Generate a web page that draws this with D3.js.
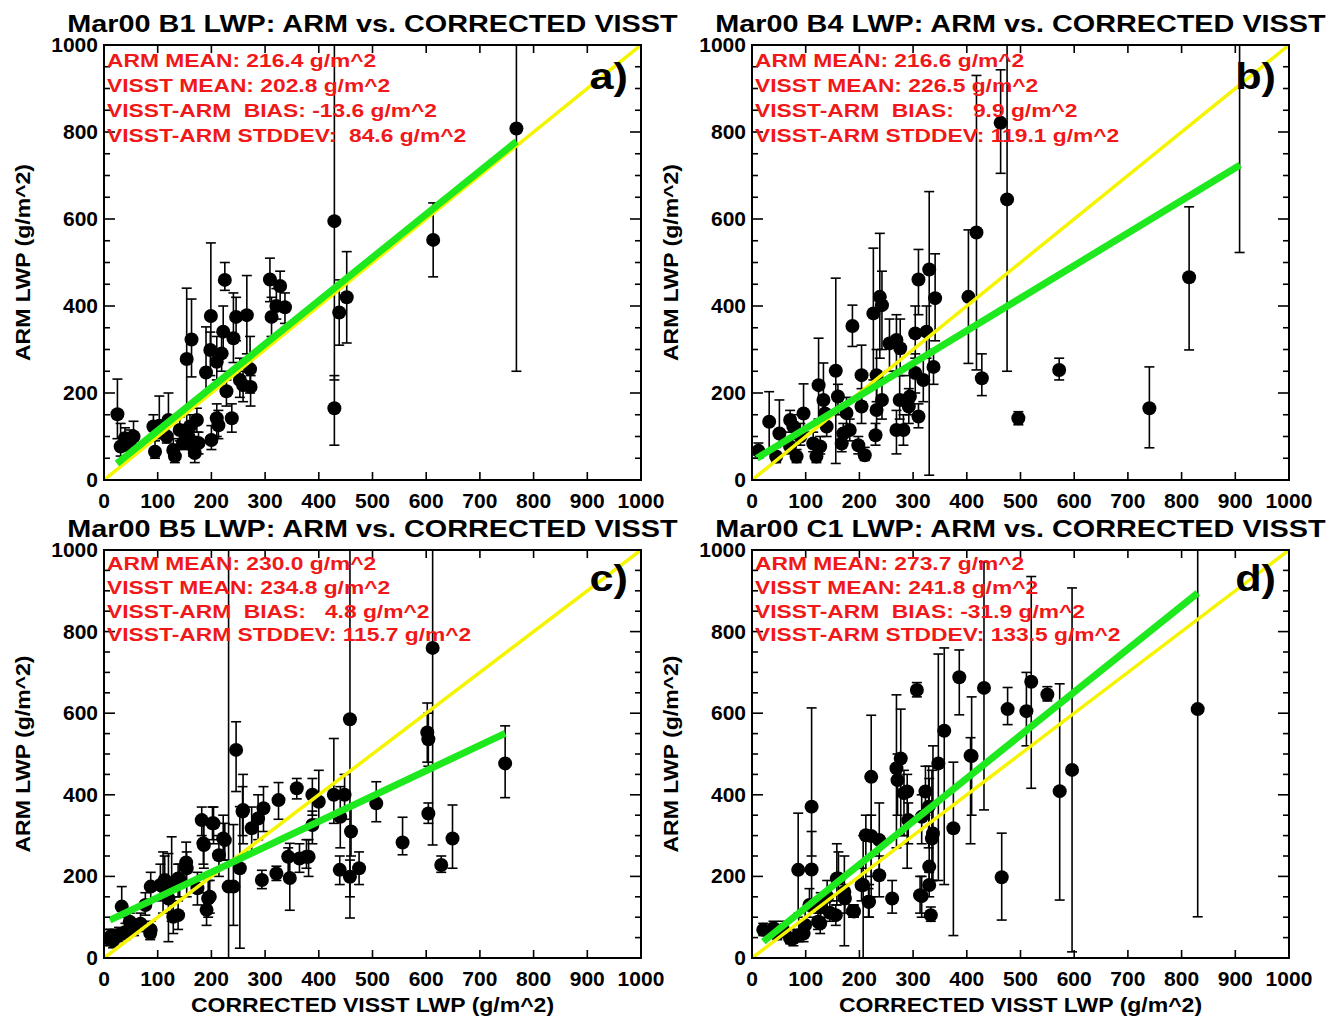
<!DOCTYPE html>
<html>
<head>
<meta charset="utf-8">
<script src="https://cdn.jsdelivr.net/npm/d3@7"></script>
<style>
  body { margin: 0; background: #fff; }
  text { font-family: "Liberation Sans", Arial, Helvetica, sans-serif; font-weight: bold; }
</style>
</head>
<body>
<div id="chart"></div>
<script>
// Axis ticks
var xTicks = [0, 100, 200, 300, 400, 500, 600, 700, 800, 900, 1000];
var yTicks = [0, 200, 400, 600, 800, 1000];

// Panel titles and stats
var titles = [
  "Mar00 B1 LWP: ARM vs. CORRECTED VISST",
  "Mar00 B4 LWP: ARM vs. CORRECTED VISST",
  "Mar00 B5 LWP: ARM vs. CORRECTED VISST",
  "Mar00 C1 LWP: ARM vs. CORRECTED VISST"
];
var letters = ["a)", "b)", "c)", "d)"];
var armMean = ["216.4", "216.6", "230.0", "273.7"];
var visstMean = ["202.8", "226.5", "234.8", "241.8"];
var bias = ["-13.6", "  9.9", "  4.8", "-31.9"];
var stddev = [" 84.6", "119.1", "115.7", "133.5"];

// Regression fits: [xStart, xEnd, intercept, slope]
var fits = [
  [24, 768, 14, 0.995],
  [9, 909, 43.5, 0.749],
  [11, 747, 86, 0.622],
  [21, 830, 18, 1.056]
];

// Panel a (B1)
var aX = [25, 31, 39, 49, 55, 92, 95, 103, 117, 120, 129, 132, 141, 147, 154, 157, 160, 163, 166, 169,
  173, 176, 190, 199, 198, 200, 210, 213, 210, 219, 222, 225, 228, 238, 241, 246, 253, 259, 266, 272,
  273, 309, 312, 321, 328, 337, 429, 429, 438, 452, 613, 768];
var aY = [151, 77, 96, 77, 100, 123, 65, 125, 100, 138, 69, 55, 115, 85, 278, 100, 123, 323, 77, 62,
  138, 85, 247, 377, 299, 92, 142, 126, 272, 291, 341, 460, 204, 142, 326, 375, 230, 218, 379, 255,
  214, 461, 375, 400, 446, 397, 595, 165, 385, 420, 552, 808];
var aLo = [95, 55, 70, 60, 80, 100, 50, 95, 85, 105, 55, 40, 90, 70, 107, 80, 100, 237, 55, 40,
  110, 60, 200, 289, 240, 70, 100, 95, 230, 250, 290, 436, 170, 110, 270, 320, 190, 180, 290, 200,
  170, 410, 330, 370, 400, 360, 230, 80, 310, 315, 467, 250];
var aHi = [232, 130, 120, 115, 135, 150, 90, 193, 130, 200, 95, 75, 145, 110, 441, 125, 150, 416, 100, 85,
  165, 110, 352, 545, 340, 125, 175, 160, 330, 340, 400, 500, 230, 175, 430, 420, 280, 250, 470, 330,
  240, 510, 420, 440, 480, 430, 1100, 240, 460, 525, 637, 1400];

// Panel b (B4)
var bX = [12, 32, 51, 45, 71, 77, 83, 96, 90, 71, 114, 120, 124, 127, 133, 136, 139, 156, 160, 167,
  170, 176, 182, 187, 198, 204, 204, 210, 226, 232, 232, 230, 238, 242, 242, 256, 269, 276, 269, 282,
  275, 294, 292, 310, 304, 310, 304, 319, 325, 330, 341, 338, 403, 418, 428, 463, 475, 496, 572, 740,
  814, 908];
var bY = [67, 134, 107, 54, 138, 123, 54, 153, 100, 77, 84, 54, 218, 77, 184, 153, 123, 251, 192, 84,
  107, 154, 115, 354, 80, 241, 169, 57, 383, 161, 241, 103, 421, 402, 184, 314, 322, 303, 115, 115,
  184, 192, 169, 146, 337, 461, 246, 230, 341, 484, 418, 260, 421, 569, 234, 821, 645, 142, 253, 165,
  466, 1150];
var bLo = [50, 68, 80, 40, 110, 100, 40, 110, 80, 60, 65, 40, 140, 60, 150, 120, 100, 38, 150, 65,
  85, 120, 90, 307, 60, 180, 130, 45, 230, 110, 180, 80, 280, 300, 140, 250, 250, 240, 60, 80,
  140, 150, 130, 120, 280, 380, 200, 180, 280, 11, 320, 220, 268, 253, 194, 705, 250, 127, 230, 74,
  299, 523];
var bHi = [85, 203, 184, 75, 160, 150, 70, 221, 130, 95, 110, 75, 326, 100, 269, 180, 150, 464, 220, 110,
  130, 190, 140, 402, 100, 310, 210, 75, 533, 240, 300, 130, 567, 480, 230, 370, 380, 370, 160, 150,
  240, 240, 210, 175, 400, 530, 290, 280, 400, 663, 520, 300, 575, 930, 290, 943, 1200, 157, 280, 260,
  628, 1800];

// Panel c (B5)
var cX = [8, 12, 17, 20, 28, 33, 40, 48, 56, 68, 77, 86, 87, 87, 105, 110, 113, 120, 126, 129,
  138, 138, 141, 153, 154, 174, 182, 185, 186, 191, 194, 197, 202, 204, 214, 222, 225, 232, 241, 246,
  253, 258, 259, 275, 287, 294, 297, 321, 325, 343, 346, 359, 364, 377, 381, 388, 388, 400, 428, 439,
  440, 448, 458, 460, 458, 475, 507, 556, 602, 604, 604, 612, 628, 649, 747];
var cY = [48, 52, 42, 54, 57, 126, 64, 89, 72, 84, 130, 61, 175, 69, 179, 175, 191, 146, 183, 101,
  195, 105, 191, 234, 220, 171, 338, 281, 277, 118, 146, 150, 330, 330, 252, 293, 289, 175, 175, 510,
  220, 359, 363, 318, 342, 191, 367, 207, 387, 248, 196, 416, 244, 248, 248, 400, 326, 383, 400, 216,
  346, 400, 585, 310, 199, 220, 379, 283, 553, 536, 354, 760, 228, 293, 477];
var cLo = [30, 35, 25, 40, 40, 100, 45, 70, 55, 65, 105, 45, 140, 50, 140, 110, 150, 40, 90, 60,
  150, 70, 150, 180, 150, 130, 300, 230, 220, 80, 100, 110, 290, 280, 200, 240, 240, 0, 80, 408,
  24, 300, 280, 260, 290, 170, 310, 190, 340, 200, 117, 390, 210, 220, 200, 350, 280, 340, 330, 180,
  270, 340, 98, 250, 150, 180, 334, 253, 480, 470, 330, 277, 210, 220, 393];
var cHi = [70, 70, 60, 70, 75, 175, 85, 110, 95, 110, 160, 80, 210, 90, 230, 260, 250, 256, 297, 140,
  230, 140, 230, 284, 260, 210, 370, 340, 330, 160, 190, 190, 370, 370, 300, 350, 330, 1500, 327, 579,
  371, 420, 450, 370, 400, 215, 420, 225, 430, 270, 281, 440, 280, 290, 290, 440, 360, 460, 538, 250,
  420, 450, 1500, 370, 240, 260, 432, 345, 625, 600, 380, 1500, 250, 375, 569];

// Panel d (C1)
var dX = [21, 40, 47, 58, 71, 77, 87, 96, 99, 86, 111, 111, 107, 123, 127, 128, 140, 145, 156, 158,
  161, 172, 173, 188, 190, 204, 207, 212, 217, 218, 222, 222, 237, 237, 261, 269, 271, 277, 283, 289,
  291, 307, 313, 316, 316, 323, 329, 330, 330, 333, 335, 337, 347, 358, 375, 386, 407, 409, 432, 465,
  476, 511, 520, 550, 573, 596, 830];
var dY = [69, 73, 60, 69, 48, 48, 56, 60, 81, 216, 371, 217, 130, 89, 85, 126, 150, 111, 105, 195,
  195, 162, 146, 115, 114, 179, 179, 301, 138, 138, 444, 299, 289, 203, 146, 465, 436, 489, 404, 408,
  338, 657, 154, 346, 152, 408, 371, 224, 179, 105, 293, 305, 477, 557, 318, 688, 496, 495, 662, 198,
  610, 605, 677, 646, 409, 461, 610];
var dLo = [55, 55, 45, 50, 35, 30, 40, 40, 60, 100, 250, 130, 100, 70, 60, 100, 110, 90, 80, 130,
  140, 30, 110, 100, 100, 140, 0, 180, 100, 100, 200, 150, 200, 150, 110, 270, 350, 300, 300, 220,
  280, 640, 110, 280, 100, 350, 270, 180, 150, 90, 190, 190, 190, 180, 55, 596, 280, 350, 363, 93,
  572, 520, 416, 630, 142, 15, 101];
var dHi = [85, 90, 80, 90, 70, 70, 110, 80, 120, 355, 613, 310, 170, 110, 110, 160, 190, 140, 130, 280,
  260, 250, 180, 130, 130, 220, 300, 350, 170, 180, 595, 350, 380, 250, 190, 645, 500, 610, 460, 450,
  380, 675, 200, 400, 200, 470, 470, 440, 210, 125, 460, 520, 745, 760, 480, 755, 540, 640, 971, 306,
  663, 700, 935, 665, 672, 907, 1500];

var seriesX = [aX, bX, cX, dX];
var seriesY = [aY, bY, cY, dY];
var seriesLo = [aLo, bLo, cLo, dLo];
var seriesHi = [aHi, bHi, cHi, dHi];

// Panel frames in page pixels
var frames = [
  {left: 104, right: 641, top: 45, bottom: 480},
  {left: 752, right: 1289, top: 45, bottom: 480},
  {left: 104, right: 641, top: 550, bottom: 958},
  {left: 752, right: 1289, top: 550, bottom: 958}
];

var svgWidth = 1343;
var svgHeight = 1019;

var svg = d3.select("#chart")
  .append("svg")
  .attr("width", svgWidth)
  .attr("height", svgHeight);

// Widen text horizontally (source font is broader than Helvetica)
function stretch(sel, k) {
  sel.each(function() {
    var w = this.getComputedTextLength();
    d3.select(this)
      .attr("textLength", w * k)
      .attr("lengthAdjust", "spacingAndGlyphs");
  });
}

frames.forEach(function(f, i) {
  var xs = seriesX[i], ys = seriesY[i], lo = seriesLo[i], hi = seriesHi[i];
  var pts = xs.map(function(x, j) { return {x: x, y: ys[j], lo: lo[j], hi: hi[j]}; });

  var xScale = d3.scaleLinear().domain([0, 1000]).range([f.left, f.right]);
  var yScale = d3.scaleLinear().domain([0, 1000]).range([f.bottom, f.top]);

  // Clip to the plot box
  svg.append("clipPath")
    .attr("id", "clip" + i)
    .append("rect")
    .attr("x", f.left)
    .attr("y", f.top)
    .attr("width", f.right - f.left)
    .attr("height", f.bottom - f.top);

  var plot = svg.append("g").attr("clip-path", "url(#clip" + i + ")");

  // Error bars
  var err = plot.append("g")
    .attr("stroke", "#000")
    .attr("stroke-width", 1.6)
    .attr("fill", "none");

  err.selectAll("line.v")
    .data(pts)
    .enter()
    .append("line")
    .attr("class", "v")
    .attr("x1", d => xScale(d.x))
    .attr("x2", d => xScale(d.x))
    .attr("y1", d => yScale(d.lo))
    .attr("y2", d => yScale(d.hi));

  err.selectAll("line.top")
    .data(pts)
    .enter()
    .append("line")
    .attr("class", "top")
    .attr("x1", d => xScale(d.x) - 5)
    .attr("x2", d => xScale(d.x) + 5)
    .attr("y1", d => yScale(d.hi))
    .attr("y2", d => yScale(d.hi));

  err.selectAll("line.bot")
    .data(pts)
    .enter()
    .append("line")
    .attr("class", "bot")
    .attr("x1", d => xScale(d.x) - 5)
    .attr("x2", d => xScale(d.x) + 5)
    .attr("y1", d => yScale(d.lo))
    .attr("y2", d => yScale(d.lo));

  // Markers
  plot.append("g")
    .selectAll("circle")
    .data(pts)
    .enter()
    .append("circle")
    .attr("cx", d => xScale(d.x))
    .attr("cy", d => yScale(d.y))
    .attr("r", 7)
    .attr("fill", "#000");

  // 1:1 line
  plot.append("line")
    .attr("x1", xScale(0))
    .attr("y1", yScale(0))
    .attr("x2", xScale(1000))
    .attr("y2", yScale(1000))
    .attr("stroke", "#f5f500")
    .attr("stroke-width", 3.5);

  // Regression line
  var fit = fits[i];
  plot.append("line")
    .attr("x1", xScale(fit[0]))
    .attr("y1", yScale(fit[2] + fit[3] * fit[0]))
    .attr("x2", xScale(fit[1]))
    .attr("y2", yScale(fit[2] + fit[3] * fit[1]))
    .attr("stroke", "#1ee81e")
    .attr("stroke-width", 7);

  // Frame
  svg.append("rect")
    .attr("x", f.left)
    .attr("y", f.top)
    .attr("width", f.right - f.left)
    .attr("height", f.bottom - f.top)
    .attr("fill", "none")
    .attr("stroke", "#000")
    .attr("stroke-width", 2);

  // Inward ticks: x every 100 top and bottom, y every 50 (long every 200) left and right
  var ticks = svg.append("g").attr("stroke", "#000").attr("stroke-width", 1.6);
  xTicks.forEach(function(t) {
    ticks.append("line").attr("x1", xScale(t)).attr("x2", xScale(t))
      .attr("y1", f.bottom).attr("y2", f.bottom - 8);
    ticks.append("line").attr("x1", xScale(t)).attr("x2", xScale(t))
      .attr("y1", f.top).attr("y2", f.top + 8);
  });
  d3.range(0, 1001, 50).forEach(function(t) {
    var len = (t % 200 === 0) ? 11 : 6;
    ticks.append("line").attr("x1", f.left).attr("x2", f.left + len)
      .attr("y1", yScale(t)).attr("y2", yScale(t));
    ticks.append("line").attr("x1", f.right).attr("x2", f.right - len)
      .attr("y1", yScale(t)).attr("y2", yScale(t));
  });

  // Tick labels
  var xLab = svg.append("g").selectAll("text")
    .data(xTicks)
    .enter()
    .append("text")
    .attr("x", d => xScale(d))
    .attr("y", f.bottom + 28)
    .attr("text-anchor", "middle")
    .attr("font-size", 20)
    .text(d => d);
  stretch(xLab, 1.05);

  var yLab = svg.append("g").selectAll("text")
    .data(yTicks)
    .enter()
    .append("text")
    .attr("x", f.left - 6)
    .attr("y", d => yScale(d) + 7)
    .attr("text-anchor", "end")
    .attr("font-size", 20)
    .text(d => d);
  stretch(yLab, 1.05);

  // Title
  var title = svg.append("text")
    .attr("x", (f.left + f.right) / 2)
    .attr("y", f.top - 13)
    .attr("text-anchor", "middle")
    .attr("font-size", 24)
    .text(titles[i]);
  stretch(title, 1.2);

  // Y axis title
  var yTitle = svg.append("text")
    .attr("transform", `translate(${f.left - 74}, ${(f.top + f.bottom) / 2}) rotate(-90)`)
    .attr("text-anchor", "middle")
    .attr("font-size", 20)
    .text("ARM LWP (g/m^2)");
  stretch(yTitle, 1.15);

  // X axis title on the bottom row
  if (i >= 2) {
    var xTitle = svg.append("text")
      .attr("x", (f.left + f.right) / 2)
      .attr("y", f.bottom + 54)
      .attr("text-anchor", "middle")
      .attr("font-size", 20)
      .text("CORRECTED VISST LWP (g/m^2)");
    stretch(xTitle, 1.15);
  }

  // Stats block
  var lines = [
    "ARM MEAN: " + armMean[i] + " g/m^2",
    "VISST MEAN: " + visstMean[i] + " g/m^2",
    "VISST-ARM  BIAS: " + bias[i] + " g/m^2",
    "VISST-ARM STDDEV: " + stddev[i] + " g/m^2"
  ];
  var h = f.bottom - f.top;
  var stats = svg.append("g").selectAll("text")
    .data(lines)
    .enter()
    .append("text")
    .attr("xml:space", "preserve")
    .style("white-space", "pre")
    .attr("x", f.left + 3)
    .attr("y", (d, k) => f.top + h * (0.05 + 0.058 * k))
    .attr("font-size", 19)
    .attr("fill", "#f01818")
    .text(d => d);
  stretch(stats, 1.2);

  // Panel letter
  var letter = svg.append("text")
    .attr("x", f.right - 13)
    .attr("y", f.top + h * 0.1)
    .attr("text-anchor", "end")
    .attr("font-size", 36)
    .text(letters[i]);
  stretch(letter, 1.2);
});
</script>
</body>
</html>
